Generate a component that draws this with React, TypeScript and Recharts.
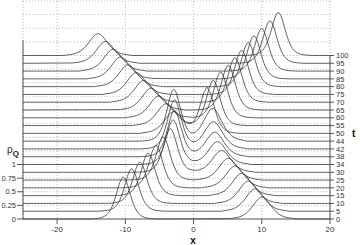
import React from 'react';
import { LineChart, Line, XAxis, YAxis, CartesianGrid, ReferenceLine, Label } from 'recharts';

// t value of each stacked curve, bottom to top
const tLabels = [0, 5, 10, 15, 20, 25, 30, 34, 38, 42, 44, 50, 55, 60, 65, 70, 75, 80, 85, 90, 95, 100];

// narrow pulse: peak position and peak height per curve
const narrowX = [-10.3, -9.07, -7.86, -6.64, -5.51, -4.44, -3.4, -3.0, -2.8, -2.8, -2.9, 2.0, 2.89, 3.97, 5.09, 6.07, 7.05, 8.02, 8.85, 9.98, 11.2, 12.42];
const narrowH = [0.77, 0.78, 0.76, 0.78, 0.78, 0.79, 0.8, 0.82, 0.85, 0.9, 0.95, 0.84, 0.83, 0.84, 0.82, 0.82, 0.81, 0.81, 0.79, 0.78, 0.78, 0.79];
// wide pulse: peak position and peak height per curve
const wideX = [10.03, 9.0, 8.02, 7.05, 6.07, 5.09, 4.1, 3.5, 3.1, 2.9, 2.8, -2.9, -4.0, -5.1, -6.2, -7.3, -8.4, -9.6, -10.7, -11.8, -12.9, -14.0];
const wideH = [0.4, 0.41, 0.41, 0.41, 0.4, 0.4, 0.4, 0.42, 0.45, 0.5, 0.6, 0.4, 0.4, 0.4, 0.4, 0.4, 0.4, 0.4, 0.4, 0.4, 0.4, 0.4];

const profileOffsets = [-5, -4.5, -4, -3.5, -3, -2.5, -2, -1.5, -1, -0.5, 0, 0.5, 1, 1.5, 2, 2.5, 3, 3.5, 4, 4.5, 5];
const narrowProfile = [0.003, 0.005, 0.01, 0.022, 0.046, 0.094, 0.187, 0.353, 0.604, 0.875, 1, 0.875, 0.604, 0.353, 0.187, 0.094, 0.046, 0.022, 0.01, 0.005, 0.003];
const wideProfile = [0.015, 0.027, 0.046, 0.079, 0.133, 0.222, 0.353, 0.535, 0.745, 0.926, 1, 0.926, 0.745, 0.535, 0.353, 0.222, 0.133, 0.079, 0.046, 0.027, 0.015];

const xTicks = [-20, -10, 0, 10, 20];
const rhoTicks = [0, 0.25, 0.5, 0.75, 1];
const stepY = 1 / 7;

function sampleProfile(profile: number[], d: number) {
  if (d <= profileOffsets[0] || d >= profileOffsets[profileOffsets.length - 1]) return 0;
  const i = (d - profileOffsets[0]) / 0.5;
  const i0 = Math.floor(i);
  const f = i - i0;
  return profile[i0] * (1 - f) + profile[Math.min(i0 + 1, profile.length - 1)] * f;
}

const curves = tLabels.map((t, k) => {
  const base = k * stepY;
  const xs = new Set<number>([-25, 20]);
  profileOffsets.forEach((o) => {
    const a = +(narrowX[k] + o).toFixed(3);
    const b = +(wideX[k] + o).toFixed(3);
    if (a > -25 && a < 20) xs.add(a);
    if (b > -25 && b < 20) xs.add(b);
  });
  return Array.from(xs)
    .sort((p, q) => p - q)
    .map((x) => ({
      x,
      y:
        base +
        narrowH[k] * sampleProfile(narrowProfile, x - narrowX[k]) +
        wideH[k] * sampleProfile(wideProfile, x - wideX[k]),
    }));
});

const font = 'Liberation Sans, Arial, sans-serif';
const tickStyle = { fontSize: 8, fill: '#333', fontFamily: font };

export default function App() {
  return (
    <div style={{ width: 360, height: 245, background: '#fff' }}>
      <style>{'body{margin:0}'}</style>
      <LineChart width={360} height={245} margin={{ top: 1, right: 0, left: 0, bottom: 0 }}>
        <CartesianGrid
          yAxisId="rho"
          stroke="#bbb"
          strokeDasharray="1 2"
          horizontalValues={[0.25, 0.5, 0.75, 1, 1.25, 1.5, 1.75, 2, 2.25, 2.5, 2.75, 3, 3.25, 3.5, 3.75, 4]}
          verticalValues={[-25, -20, -10, 0, 10, 20]}
        />
        <XAxis
          type="number"
          dataKey="x"
          domain={[-25, 20]}
          ticks={xTicks}
          interval={0}
          allowDataOverflow
          height={26}
          tickSize={5}
          tickMargin={2}
          tick={tickStyle}
          stroke="#555"
        >
          <Label
            content={() => (
              <text x={193} y={244} textAnchor="middle" fontSize={10} fontWeight="bold" fontFamily={font} fill="#111">
                x
              </text>
            )}
          />
        </XAxis>
        <YAxis
          yAxisId="rho"
          type="number"
          domain={[0, 4]}
          ticks={rhoTicks}
          interval={0}
          width={23}
          tickSize={6}
          tickMargin={1}
          tick={{ ...tickStyle, fontSize: 7.5 }}
          axisLine={false}
          stroke="#555"
        >
          <Label
            content={() => (
              <text x={7} y={153} fontSize={10} fontFamily={font} fill="#222">
                ρ<tspan dy={3} fontSize={8} fontWeight="bold">Q</tspan>
              </text>
            )}
          />
        </YAxis>
        <YAxis
          yAxisId="t"
          orientation="right"
          type="number"
          domain={[0, 4]}
          ticks={tLabels.map((_, k) => k * stepY)}
          interval={0}
          tickFormatter={(v: number) => String(tLabels[Math.round(v / stepY)])}
          width={30}
          tickSize={4}
          tickMargin={2}
          tick={{ ...tickStyle, fontSize: 7.5 }}
          axisLine={false}
          stroke="#555"
        >
          <Label
            content={() => (
              <text x={352} y={137} fontSize={10} fontWeight="bold" fontFamily={font} fill="#111">
                t
              </text>
            )}
          />
        </YAxis>
        <ReferenceLine yAxisId="rho" segment={[{ x: -25, y: 0 }, { x: -25, y: 3.28 }]} stroke="#555" />
        <ReferenceLine yAxisId="rho" segment={[{ x: 20, y: 0 }, { x: 20, y: 21 * stepY }]} stroke="#555" />
        {curves.map((pts, k) => (
          <Line
            key={tLabels[k]}
            yAxisId={k === curves.length - 1 ? 't' : 'rho'}
            data={pts}
            dataKey="y"
            type="monotone"
            dot={false}
            stroke="#3a3a3a"
            strokeWidth={0.8}
            isAnimationActive={false}
          />
        ))}
      </LineChart>
    </div>
  );
}
